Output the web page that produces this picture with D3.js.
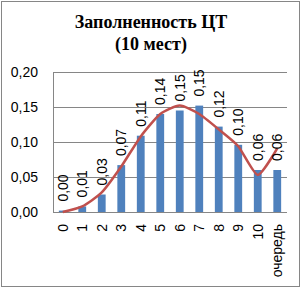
<!DOCTYPE html>
<html>
<head>
<meta charset="utf-8">
<script src="https://cdn.jsdelivr.net/npm/d3@7"></script>
<style>
  body { margin: 0; background: #fff; }
</style>
</head>
<body>
<div id="chart"></div>
<script>
// chart data
const categories = ["0", "1", "2", "3", "4", "5", "6", "7", "8", "9", "10", "очередь"];
const barValues = [0.002, 0.008, 0.025, 0.067, 0.109, 0.140, 0.145, 0.152, 0.122, 0.096, 0.060, 0.060];
const barLabels = ["0,00", "0,01", "0,03", "0,07", "0,11", "0,14", "0,15", "0,15", "0,12", "0,10", "0,06", "0,06"];
const lineValues = [0.000, 0.008, 0.028, 0.065, 0.108, 0.140, 0.152, 0.140, 0.118, 0.094, 0.053, 0.091];
const yTicks = [0, 0.05, 0.10, 0.15, 0.20];

const W = 302, H = 289;
const margin = {top: 72, right: 15, bottom: 77, left: 53};
const width = W - margin.left - margin.right,
      height = H - margin.top - margin.bottom;

const font = "'Liberation Sans', Arial, sans-serif";

const root = d3.select("#chart")
  .append("svg")
    .attr("width", W)
    .attr("height", H);

// outer chart border
root.append("rect")
  .attr("x", 1.5).attr("y", 1.5)
  .attr("width", 298).attr("height", 285)
  .attr("fill", "#fff")
  .attr("stroke", "#868686");

// title
const title = root.append("text")
  .attr("text-anchor", "middle")
  .style("font-family", "'Liberation Serif', 'Times New Roman', serif")
  .style("font-weight", "bold")
  .style("font-size", "18px")
  .attr("fill", "#000");
title.append("tspan").attr("x", 151).attr("y", 28).text("Заполненность ЦТ");
title.append("tspan").attr("x", 151).attr("y", 50).text("(10 мест)");

const svg = root.append("g")
  .attr("transform", `translate(${margin.left},${margin.top})`);

const x = d3.scaleBand()
  .domain(categories)
  .range([0, width])
  .paddingInner(0.6)
  .paddingOuter(0.3);

const y = d3.scaleLinear()
  .domain([0, 0.2])
  .range([height, 0]);

// gridlines
svg.selectAll(".grid")
  .data(yTicks)
  .join("line")
    .attr("x1", 0).attr("x2", width)
    .attr("y1", d => Math.round(y(d)) + 0.5)
    .attr("y2", d => Math.round(y(d)) + 0.5)
    .attr("stroke", "#868686")
    .attr("stroke-width", 1);

// y axis
const yAxis = svg.append("g")
  .call(d3.axisLeft(y).tickValues(yTicks).tickSize(0).tickPadding(15)
    .tickFormat(d => d3.format(".2f")(d).replace(".", ",")));
yAxis.select(".domain").attr("stroke", "#868686").attr("d", `M0.5,0V${height}`);
yAxis.selectAll("text")
  .style("font-family", font)
  .style("font-size", "14px")
  .attr("fill", "#000");

// bars
svg.selectAll(".bar")
  .data(barValues)
  .join("rect")
    .attr("class", "bar")
    .attr("x", (d, i) => x(categories[i]))
    .attr("y", d => y(d))
    .attr("width", x.bandwidth())
    .attr("height", d => height - y(d))
    .attr("fill", "#4f81bd");

// x axis (baseline)
svg.append("line")
  .attr("x1", 0).attr("x2", width)
  .attr("y1", height + 0.5).attr("y2", height + 0.5)
  .attr("stroke", "#868686");

// category labels, rotated
svg.selectAll(".xlab")
  .data(categories)
  .join("text")
    .attr("class", "xlab")
    .attr("transform", d => `translate(${x(d) + x.bandwidth() / 2},${height + 12}) rotate(-90)`)
    .attr("text-anchor", "end")
    .attr("dy", "0.35em")
    .style("font-family", font)
    .style("font-size", "14px")
    .attr("fill", "#000")
    .text(d => d);

// line series
const line = d3.line()
  .x((d, i) => x(categories[i]) + x.bandwidth() / 2)
  .y(d => y(d))
  .curve(d3.curveCardinal.tension(0.4));

svg.append("path")
  .datum(lineValues)
  .attr("fill", "none")
  .attr("stroke", "#c0504d")
  .attr("stroke-width", 2.5)
  .attr("stroke-linejoin", "round")
  .attr("d", line);

// data labels above bars, rotated
svg.selectAll(".dlab")
  .data(barValues)
  .join("text")
    .attr("class", "dlab")
    .attr("transform", (d, i) => `translate(${x(categories[i]) + x.bandwidth() / 2},${y(d) - 9}) rotate(-90)`)
    .attr("text-anchor", "start")
    .attr("dy", "0.35em")
    .style("font-family", font)
    .style("font-size", "14px")
    .attr("fill", "#000")
    .text((d, i) => barLabels[i]);
</script>
</body>
</html>
